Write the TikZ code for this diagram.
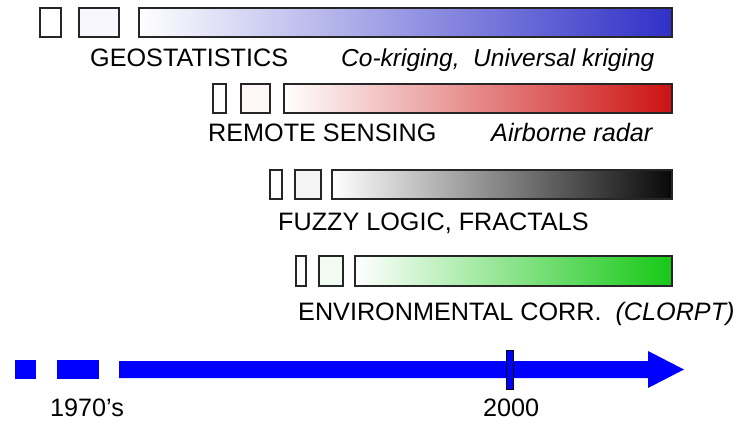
\documentclass[tikz,border=0pt]{standalone}
\usepackage{fontspec}
\setmainfont{Liberation Sans}
\begin{document}
\begin{tikzpicture}[x=1pt,y=-1pt,
  frame/.style={draw=black!85,line width=1.2pt,inner sep=0pt,outer sep=0pt,anchor=north west},
  lbl/.style={anchor=base west,inner sep=0pt,font=\fontsize{25.2}{29}\selectfont},
  ilbl/.style={lbl,font=\fontsize{25.2}{29}\selectfont\itshape},
  tl/.style={fill=tlblue,draw=none}]
\definecolor{tlblue}{RGB}{0,0,255}
\definecolor{geoblue}{RGB}{48,48,200}
\definecolor{rsred}{RGB}{205,18,18}
\definecolor{fzblack}{RGB}{8,8,8}
\definecolor{envgreen}{RGB}{22,200,22}
\useasboundingbox[fill=white] (0,0) rectangle (737,423);

% Geostatistics
\node[frame,fill=white,minimum width=21pt,minimum height=29pt] (g1) at (40,8) {};
\node[frame,fill=geoblue!4,minimum width=40pt,minimum height=29pt] (g2) at (79,8) {};
\node[frame,left color=white,right color=geoblue,minimum width=533pt,minimum height=29pt] (gbar) at (139,8) {};
\node[lbl] (gname) at (90,66) {GEOSTATISTICS};
\node[ilbl,font=\fontsize{24.5}{28}\selectfont\itshape] (gex) at (341,66) {Co-kriging,\ \ Universal kriging};

% Remote sensing
\node[frame,fill=white,minimum width=13pt,minimum height=29pt] (r1) at (213,84) {};
\node[frame,fill=rsred!3,minimum width=29pt,minimum height=29pt] (r2) at (241,84) {};
\node[frame,left color=white,right color=rsred,minimum width=388pt,minimum height=29pt] (rbar) at (284,84) {};
\node[lbl] (rname) at (208,141) {REMOTE SENSING};
\node[ilbl] (rex) at (491,141) {Airborne radar};

% Fuzzy logic, fractals
\node[frame,fill=white,minimum width=12pt,minimum height=29pt] (f1) at (270,170) {};
\node[frame,fill=black!4,minimum width=26pt,minimum height=29pt] (f2) at (295,170) {};
\node[frame,left color=white,right color=fzblack,minimum width=340pt,minimum height=29pt] (fbar) at (332,170) {};
\node[lbl] (fname) at (278,230) {FUZZY LOGIC,\ FRACTALS};

% Environmental correlation
\node[frame,fill=white,minimum width=10pt,minimum height=30pt] (e1) at (296,256) {};
\node[frame,fill=envgreen!5,minimum width=24pt,minimum height=30pt] (e2) at (319,256) {};
\node[frame,left color=white,right color=envgreen,minimum width=317pt,minimum height=30pt] (ebar) at (355,256) {};
\node[lbl] (ename) at (298,320) {ENVIRONMENTAL CORR.\ \ \textit{(CLORPT)}};

% Time axis
\fill[tl] (15,360) rectangle (36,379);
\fill[tl] (57,360) rectangle (99,379);
\fill[tl] (119,361) -- (648,361) -- (648,351) -- (684,369.5) -- (648,388) -- (648,378) -- (119,378) -- cycle;
\node[draw=black,line width=1.4pt,fill=tlblue,inner sep=0pt,minimum width=7pt,minimum height=39pt,anchor=north west] (y2000) at (506,350) {};
\node[lbl] (t1970) at (50,416) {1970’s};
\node[lbl] (t2000) at (483,416) {2000};
\end{tikzpicture}
\end{document}
